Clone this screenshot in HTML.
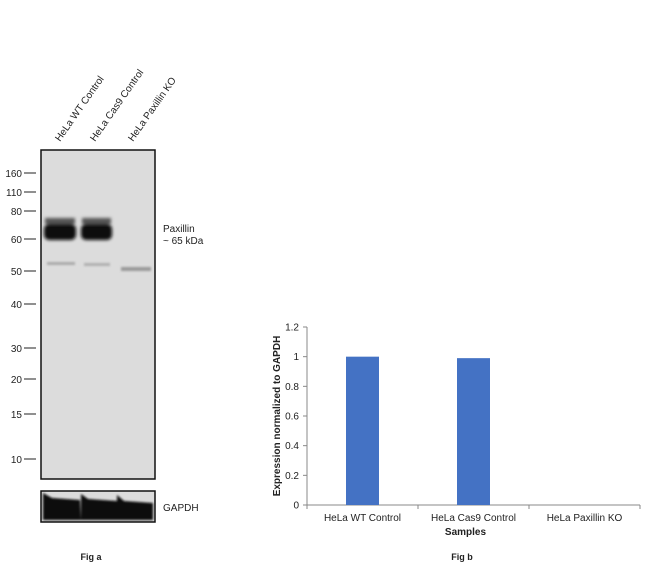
<!DOCTYPE html>
<html><head><meta charset="utf-8">
<style>
body{margin:0;background:#fff;width:650px;height:569px;overflow:hidden;font-family:"Liberation Sans",Arial,sans-serif}
svg{display:block}
text{font-family:"Liberation Sans",Arial,sans-serif}
</style></head><body>
<svg width="650" height="569" viewBox="0 0 650 569">
<defs>
<filter id="blur1" x="-20%" y="-50%" width="140%" height="200%"><feGaussianBlur stdDeviation="1.6"/></filter>
<filter id="blur2" x="-20%" y="-50%" width="140%" height="200%"><feGaussianBlur stdDeviation="1"/></filter>
</defs>
<g>
  <g font-size="10" fill="#222">
    <text transform="translate(60,142) rotate(-55)">HeLa WT Control</text>
    <text transform="translate(95,142) rotate(-55)">HeLa Cas9 Control</text>
    <text transform="translate(133,142) rotate(-55)">HeLa Paxillin KO</text>
  </g>
  <rect x="41" y="150" width="114" height="329" fill="#dcdcdc" stroke="#111" stroke-width="1.5"/>
  <g filter="url(#blur1)">
    <rect x="44" y="224" width="32" height="16" rx="5" fill="#0a0a0a"/>
    <rect x="81" y="224" width="31" height="16" rx="5" fill="#0a0a0a"/>
    <rect x="45" y="218" width="30" height="6" fill="#555"/>
    <rect x="82" y="218" width="29" height="6" fill="#555"/>
  </g>
  <g filter="url(#blur2)">
    <rect x="47" y="262" width="28" height="3" fill="#aaa"/>
    <rect x="84" y="263" width="26" height="3" fill="#b0b0b0"/>
    <rect x="121" y="267" width="30" height="4" fill="#9a9a9a"/>
  </g>
  <g font-size="10" fill="#222" text-anchor="end">
    <text x="22" y="177">160</text><line x1="24" y1="173" x2="36" y2="173" stroke="#222"/>
    <text x="22" y="196">110</text><line x1="24" y1="192" x2="36" y2="192" stroke="#222"/>
    <text x="22" y="215">80</text><line x1="24" y1="211" x2="36" y2="211" stroke="#222"/>
    <text x="22" y="243">60</text><line x1="24" y1="239" x2="36" y2="239" stroke="#222"/>
    <text x="22" y="275">50</text><line x1="24" y1="271" x2="36" y2="271" stroke="#222"/>
    <text x="22" y="308">40</text><line x1="24" y1="304" x2="36" y2="304" stroke="#222"/>
    <text x="22" y="352">30</text><line x1="24" y1="348" x2="36" y2="348" stroke="#222"/>
    <text x="22" y="383">20</text><line x1="24" y1="379" x2="36" y2="379" stroke="#222"/>
    <text x="22" y="418">15</text><line x1="24" y1="414" x2="36" y2="414" stroke="#222"/>
    <text x="22" y="463">10</text><line x1="24" y1="459" x2="36" y2="459" stroke="#222"/>
  </g>
  <text x="163" y="232" font-size="10" fill="#222">Paxillin</text>
  <text x="163" y="244" font-size="10" fill="#222">~ 65 kDa</text>
  <rect x="41" y="491" width="114" height="31" fill="#dcdcdc" stroke="#111" stroke-width="1.5"/>
  <g filter="url(#blur2)">
    <path d="M43,493 L52,498 L80,500 L81,520 L43,520 Z" fill="#0a0a0a"/>
    <path d="M81,494 L88,499 L117,501 L117,520 L81,520 Z" fill="#0a0a0a"/>
    <path d="M117,495 L124,501 L153,503 L153,520 L117,520 Z" fill="#0a0a0a"/>
  </g>
  <text x="163" y="511" font-size="10" fill="#222">GAPDH</text>
  <text x="91" y="560" font-size="9" font-weight="bold" text-anchor="middle" fill="#222">Fig a</text>
</g>
<g id="chart"></g>
<text x="462" y="560" font-size="9" font-weight="bold" text-anchor="middle" fill="#222">Fig b</text>
</svg>
<script>
const categories = ["HeLa WT Control","HeLa Cas9 Control","HeLa Paxillin KO"];
const values = [1.0, 0.99, 0.0];
const yTicks = [0, 0.2, 0.4, 0.6, 0.8, 1, 1.2];
const yTickLabels = ["0","0.2","0.4","0.6","0.8","1","1.2"];

const NS = "http://www.w3.org/2000/svg";
const g = document.getElementById("chart");
const x0 = 307, x1 = 640, yBase = 505, yTop = 327, yMax = 1.2;
const bandW = (x1 - x0) / categories.length;
function yScale(v){ return yBase - (v / yMax) * (yBase - yTop); }
function xCenter(i){ return x0 + bandW * (i + 0.5); }
function mk(tag, attrs){ const e = document.createElementNS(NS, tag); for (const k in attrs) e.setAttribute(k, attrs[k]); g.appendChild(e); return e; }

const yAxis = mk("line", {x1:x0, y1:yTop, x2:x0, y2:yBase, stroke:"#888", "stroke-width":1});


const xAxis = mk("line", {x1:x0, y1:yBase, x2:x1, y2:yBase, stroke:"#888", "stroke-width":1});



yTicks.forEach((t, i) => {
  const y = yScale(t);
  const tk = mk("line", {x1:x0-4, y1:y, x2:x0, y2:y, stroke:"#888"});
  
  
  const lb = mk("text", {x:x0-8, y:y+3.5, "font-size":10, "text-anchor":"end", fill:"#222"});
  lb.textContent = yTickLabels[i];
  
  
});

for (let i = 0; i <= categories.length; i++) {
  const x = x0 + bandW * i;
  const tk = mk("line", {x1:x, y1:yBase, x2:x, y2:yBase+4, stroke:"#888"});
  
  
}

const barW = 33;
categories.forEach((c, i) => {
  const y = yScale(values[i]);
  if (values[i] > 0) {
    const b = mk("rect", {x:xCenter(i)-barW/2, y:y, width:barW, height:yBase-y, fill:"#4472c4"});
    
    
  }
  const lb = mk("text", {x:xCenter(i), y:yBase+16, "font-size":10, "text-anchor":"middle", fill:"#222"});
  lb.textContent = c;
  
  
});

const xt = mk("text", {x:(x0+x1)/2 - 8, y:535, "font-size":10, "font-weight":"bold", "text-anchor":"middle", fill:"#222"});
xt.textContent = "Samples";


const yt = mk("text", {x:0, y:0, "font-size":10, "font-weight":"bold", "text-anchor":"middle", fill:"#222", transform:"translate(280," + ((yTop+yBase)/2) + ") rotate(-90)"});
yt.textContent = "Expression normalized to GAPDH";


</script>
</body></html>
